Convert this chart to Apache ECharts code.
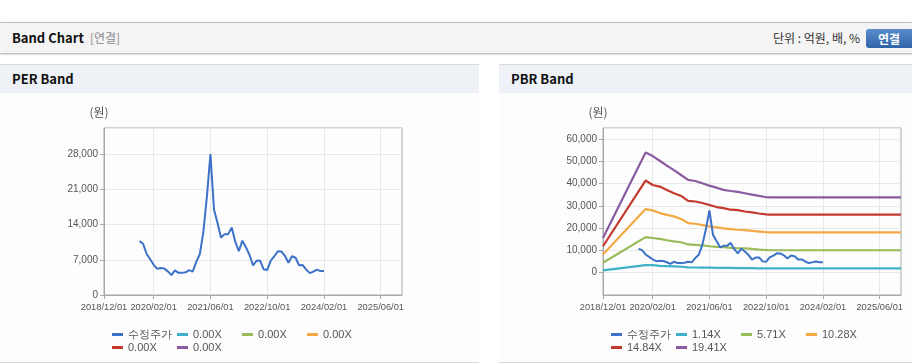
<!DOCTYPE html>
<html><head><meta charset="utf-8">
<script src="https://cdn.jsdelivr.net/npm/echarts@6/dist/echarts.min.js"></script>
<style>
html,body{margin:0;padding:0}
body{width:912px;height:364px;overflow:hidden;background:#fff;position:relative;font-family:"Noto Sans CJK KR","Liberation Sans",sans-serif}
#hdr{position:absolute;left:0;top:22px;width:912px;height:30px;background:#f4f4f4;border-top:1px solid #bdbdbd;box-shadow:0 1px 2px rgba(0,0,0,0.35)}
#hdr .t{position:absolute;left:12px;top:0;line-height:30px;font-size:13px;font-weight:bold;color:#111}
#hdr .s{font-weight:normal;color:#8a8a8a;font-size:12px;margin-left:6px}
#hdr .u{position:absolute;right:52px;top:0;line-height:30px;font-size:12px;color:#333}
#hdr .b{position:absolute;left:866px;top:6px;width:50px;height:19px;border-radius:3px;background:linear-gradient(#5a8dcc,#2f64a8);color:#fff;font-size:12px;font-weight:bold;line-height:19px;text-indent:12px}
.panel{position:absolute;top:64px;height:297px;border-top:1px solid #d9d9d9;border-bottom:1px solid #d9d9d9;background:#fdfdfd}
.panel .tb{height:28px;background:#eef2f7;line-height:28px;font-size:13px;font-weight:bold;color:#111;padding-left:12px}
.panel .c{position:absolute;left:0;top:28px;height:269px}
</style></head>
<body>
<div id="hdr"><div class="t">Band Chart<span class="s">[연결]</span></div><div class="u">단위 : 억원, 배, %</div><div class="b">연결</div></div>
<div class="panel" style="left:0;width:479px"><div class="tb">PER Band</div><div class="c" id="per" style="width:479px"></div></div>
<div class="panel" style="left:499px;width:413px"><div class="tb">PBR Band</div><div class="c" id="pbr" style="width:413px"></div></div>
<script>
// ---- data ----
const tickLabels = ['2018/12/01','2020/02/01','2021/06/01','2022/10/01','2024/02/01','2025/06/01'];
const priceStart = '2019/10/01';
const priceValues = [10700,10200,8200,7100,6000,5200,5350,5250,4700,3950,4900,4400,4400,4500,4950,4650,6600,8100,12500,19500,28000,17000,14300,11400,12100,12100,13400,10600,8700,10800,9500,8000,5900,6800,6850,5100,4950,6850,7700,8700,8650,7800,6400,7700,7400,5900,5950,5050,4350,4650,5050,4750,4750];
const priceName = '수정주가';
const perLabels = ['0.00X','0.00X','0.00X','0.00X','0.00X'];
const pbrLabels = ['1.14X','5.71X','10.28X','14.84X','19.41X'];
const bandDates = ['2018/12/01','2019/12/01','2020/02/01','2020/04/01','2020/06/01','2020/08/01','2020/10/01','2020/12/01','2021/02/01','2021/04/01','2021/06/01','2021/08/01','2021/10/01','2021/12/01','2022/02/01','2022/04/01','2022/06/01','2022/08/01','2022/10/01','2022/11/01','2025/12/01'];
const band114 = [1050,3400,3400,3100,3000,2850,2700,2400,2350,2300,2250,2200,2150,2150,2100,2100,2050,2000,1950,1950,1950];
const band571 = [4500,16000,15600,15200,14600,14100,13700,12700,12500,12300,11900,11600,11500,11200,11000,10900,10700,10400,10200,10100,10100];
const band1028 = [8200,28600,28000,26800,26000,25300,24100,22300,22000,21400,20800,20400,19900,19600,19300,19100,18800,18500,18200,18100,18100];
const band1484 = [11900,41400,39400,38700,37200,35700,34500,32300,32000,31300,30400,29500,29000,28300,28100,27500,27100,26600,26200,26100,26100];
const band1941 = [15600,54000,52400,50300,48100,46100,43900,41700,41200,40200,39100,38200,37200,36700,36300,35700,35100,34500,33900,33800,33800];
const colors = ['#3d72c8','#3fb1c8','#99bb5a','#f3aa45','#c3392e','#8a5ba0'];

// monthly category axis 2018/12 .. 2025/12
const months = [];
for (let y = 2018, m = 12; y < 2025 || (y === 2025 && m <= 12); ) {
  months.push(y + '/' + String(m).padStart(2, '0') + '/01');
  m++; if (m > 12) { m = 1; y++; }
}
const priceData = months.map(d => null);
const p0 = months.indexOf(priceStart);
priceValues.forEach((v, i) => { priceData[p0 + i] = v; });

const FONT = 'Liberation Sans';
const isTick = (i, v) => tickLabels.indexOf(v) >= 0;

function makeOption(cfg) {
  const series = [{
    name: priceName, type: 'line', data: priceData, showSymbol: false, z: 5,
    lineStyle: { width: 2, color: colors[0] }, itemStyle: { color: colors[0] }, connectNulls: false
  }];
  cfg.labels.forEach((lab, k) => {
    const nm = lab + ' '.repeat(k + 1);
    series.push({
      name: nm, type: 'line', showSymbol: false, z: 3,
      data: cfg.bands ? bandDates.map((d, j) => [d, cfg.bands[k][j]]) : [],
      lineStyle: { width: 2.2, color: colors[k + 1] }, itemStyle: { color: colors[k + 1] }
    });
  });
  return {
    animation: false,
    grid: { left: 104, top: 35, width: 298, height: 167, show: true, borderColor: '#a8a8a8', borderWidth: 1 },
    legend: {
      left: 107, top: 230, width: 262, itemGap: 0, itemWidth: 11, itemHeight: 3, icon: 'rect',
      formatter: n => n.trim(),
      textStyle: { fontSize: 11, color: '#555', fontFamily: 'Liberation Sans', width: 49, lineHeight: 13 },
      data: series.map(s => s.name)
    },
    xAxis: {
      type: 'category', data: months, boundaryGap: false,
      axisLine: { onZero: false, lineStyle: { color: '#a8a8a8' } },
      axisTick: { interval: isTick, length: 4, lineStyle: { color: '#a8a8a8' } },
      axisLabel: { interval: 0, hideOverlap: false, formatter: v => (tickLabels.indexOf(v) >= 0 ? v : ''),
        color: '#555', fontSize: 9.3, margin: 8, fontFamily: FONT },
      splitLine: { show: true, interval: isTick, lineStyle: { color: '#e8e8e8' } }
    },
    yAxis: {
      type: 'value', min: cfg.min, max: cfg.max, interval: cfg.interval,
      name: '(원)', nameLocation: 'end', nameGap: 10,
      nameTextStyle: { color: '#555', fontSize: 12, padding: [0, 10, 0, 0], fontFamily: 'Noto Sans CJK KR' },
      axisLine: { show: true, lineStyle: { color: '#a8a8a8' } },
      axisTick: { show: true, length: 4, lineStyle: { color: '#a8a8a8' } },
      axisLabel: { color: '#555', fontSize: 10, margin: 6, fontFamily: FONT, showMaxLabel: false, showMinLabel: cfg.showMin,
        formatter: v => v.toLocaleString('en-US') },
      splitLine: { lineStyle: { color: '#e8e8e8' } }
    },
    series
  };
}
echarts.init(document.getElementById('per')).setOption(makeOption({ labels: perLabels, bands: null, min: 0, max: 33200, interval: 7000, showMin: true }));
echarts.init(document.getElementById('pbr')).setOption(makeOption({ labels: pbrLabels, bands: [band114, band571, band1028, band1484, band1941], min: -10000, max: 65000, interval: 10000, showMin: false }));
</script>
</body></html>
